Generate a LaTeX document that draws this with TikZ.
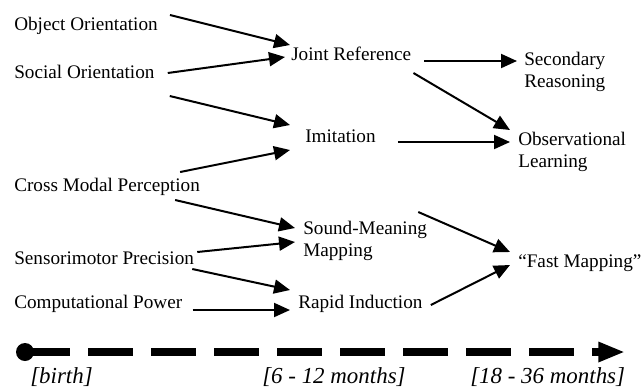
\documentclass[tikz,border=0pt]{standalone}
\usepackage{fontspec}
\setmainfont{Liberation Serif}
\usetikzlibrary{arrows.meta, positioning, calc}

\begin{document}
\begin{tikzpicture}[
  x=0.75pt, y=-0.75pt,
  >={Triangle[length=12pt, width=10.5pt]},
  txt/.style={
    anchor=west, inner sep=0pt, align=left,
    font=\fontsize{14.4}{16.5}\selectfont, text=black
  },
  agelab/.style={
    anchor=west, inner sep=0pt,
    font=\fontsize{17.2}{19}\selectfont\itshape
  },
  arr/.style={->, line width=1.5pt, black},
  timeline/.style={
    line width=6pt, dash pattern=on 33.75pt off 13.5pt,
    -{Triangle[length=20pt, width=14pt]}
  },
]

% Frame
\useasboundingbox (0,0) rectangle (641,387);

% =============================================
% LEFT: starting abilities
% =============================================
\node[txt] (obj)  at (14,26)  {Object Orientation};
\node[txt] (soc)  at (14,72)  {Social Orientation};
\node[txt] (cmp)  at (14,187) {Cross Modal Perception};
\node[txt] (sen)  at (14,258) {Sensorimotor Precision};
\node[txt] (comp) at (14,304) {Computational Power};

% =============================================
% MIDDLE: 6 - 12 months
% =============================================
\node[txt] (jr)  at (291,54)  {Joint Reference};
\node[txt] (imi) at (305,136) {Imitation};
\node[txt] (smm) at (303,241) {Sound-Meaning\\Mapping};
\node[txt] (ri)  at (298,304) {Rapid Induction};

% =============================================
% RIGHT: 18 - 36 months
% =============================================
\node[txt] (sec) at (524,72)  {Secondary\\Reasoning};
\node[txt] (obs) at (518,152) {Observational\\Learning};
\node[txt] (fm)  at (518,263) {``Fast Mapping''};

% Arrows: left -> middle
\draw[arr] ([shift={(12,-11)}]obj.east) -- ([shift={(-1,-9)}]jr.west);
\draw[arr] ([shift={(13,1)}]soc.east) -- ([shift={(-6,3)}]jr.west);
\draw[arr] ([shift={(15,24)}]soc.east) -- ([shift={(-15,-11)}]imi.west);
\draw[arr] ([shift={(-20,-15)}]cmp.east) -- ([shift={(-15,14)}]imi.west);
\draw[arr] ([shift={(-25,13)}]cmp.east) -- ([shift={(-8,-13)}]smm.west);
\draw[arr] ([shift={(3,-6)}]sen.east) -- ([shift={(-8,1)}]smm.west);
\draw[arr] ([shift={(-2,11)}]sen.east) -- ([shift={(-8,-14)}]ri.west);
\draw[arr] ([shift={(10,6)}]comp.east) -- ([shift={(-8,6)}]ri.west);

% Arrows: middle -> right
\draw[arr] ([shift={(13,7)}]jr.east) -- ([shift={(-7,-11)}]sec.west);
\draw[arr] ([shift={(2,19)}]jr.east) -- ([shift={(-8,-22)}]obs.west);
\draw[arr] ([shift={(22,6)}]imi.east) -- ([shift={(-8,-10)}]obs.west);
\draw[arr] ([shift={(-9,-29)}]smm.east) -- ([shift={(-8,-11)}]fm.west);
\draw[arr] ([shift={(8,1)}]ri.east) -- ([shift={(-8,2)}]fm.west);

% =============================================
% BOTTOM: time line
% =============================================
\coordinate (start) at (25,352);
\coordinate (stop)  at (625,352);
\fill (start) circle (9);
\draw[timeline] (start) -- (stop);

\node[agelab] (birth) at (30,377)  {[birth]};
\node[agelab] (mid)   at (262,377) {[6 - 12 months]};
\node[agelab] (late)  at (470,377) {[18 - 36 months]};

\end{tikzpicture}
\end{document}
